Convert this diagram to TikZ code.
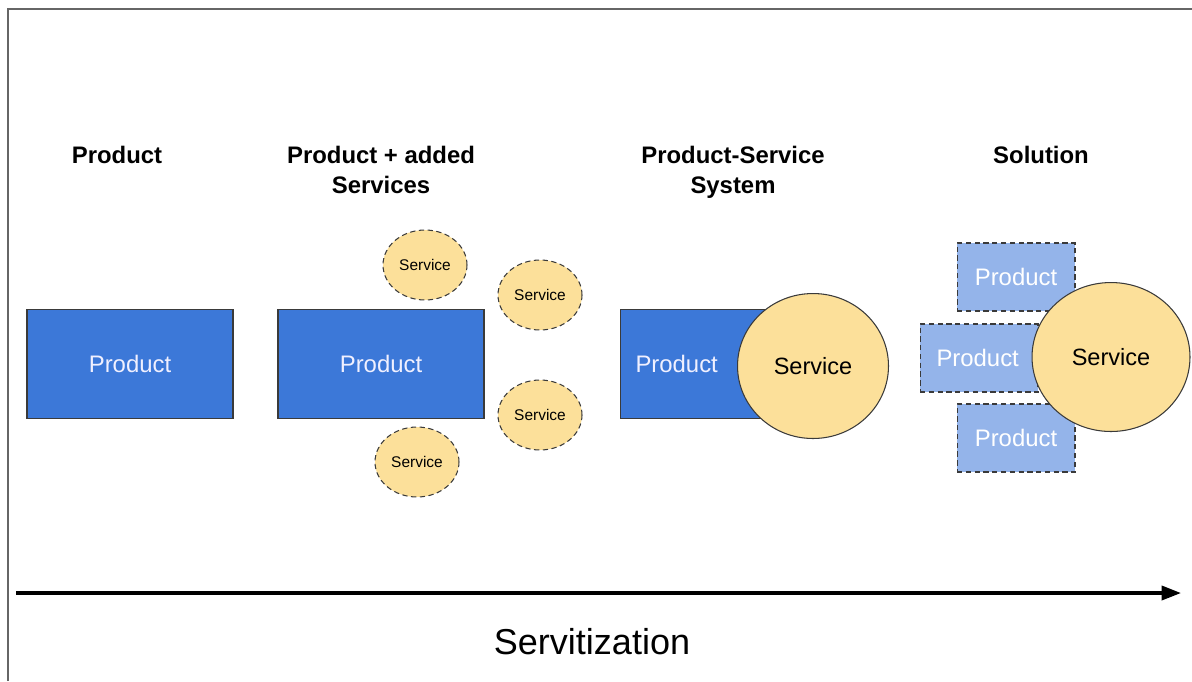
\documentclass[tikz,border=0pt]{standalone}
\usepackage{fontspec}
\setmainfont{Liberation Sans}
\usetikzlibrary{arrows.meta,shapes.geometric}

\definecolor{prodblue}{HTML}{3C78D8}
\definecolor{prodlight}{HTML}{94B4EA}
\definecolor{servyellow}{HTML}{FCE09A}
\definecolor{edgegray}{HTML}{3A3A3A}

\begin{document}
\begin{tikzpicture}[x=0.02cm,y=-0.02cm]
    \useasboundingbox (0,0) rectangle (1192,681);
    % frame
    \draw[line width=0.8pt,gray!80!black] (8,681) -- (8,9) -- (1192,9);
    % headings
    \begin{scope}[every node/.style={font=\fontsize{13.6}{17}\selectfont\bfseries,align=center}]
        \node (hprod) at (117,155) {Product};
        \node (hadd) at (381,170) {Product + added\\Services};
        \node (hpss) at (733,172) {Product-Service\\System};
        \node (hsol) at (1041,155) {Solution};
    \end{scope}
    % product boxes
    \begin{scope}[every node/.style={rectangle,draw=edgegray,line width=0.6pt,fill=prodblue,text=blue!6,minimum width=4.12cm,minimum height=2.18cm,font=\fontsize{13.6}{16}\selectfont}]
        \node (p1) at (130,364) {Product};
        \node (p2) at (381,364) {Product};
        \node[text width=3.5cm,align=left] (p3) at (723,364) {Product};
    \end{scope}
    % added services
    \begin{scope}[every node/.style={ellipse,draw=edgegray,dash pattern=on 3pt off 2pt,line width=0.6pt,fill=servyellow,minimum width=1.68cm,minimum height=1.4cm,inner sep=0pt,font=\fontsize{8.8}{10}\selectfont}]
        \node (s1) at (425,265) {Service};
        \node (s2) at (540,295) {Service};
        \node (s3) at (540,415) {Service};
        \node (s4) at (417,462) {Service};
    \end{scope}
    % solution products
    \begin{scope}[every node/.style={rectangle,draw=edgegray,dash pattern=on 3pt off 2pt,line width=0.6pt,fill=prodlight,text=white,minimum width=2.36cm,minimum height=1.36cm,inner sep=0pt,font=\fontsize{13.6}{16}\selectfont}]
        \node (sp1) at (1016,277) {Product};
        \node[text width=1.7cm,align=left] (sp2) at (979,358) {Product};
        \node (sp3) at (1016,438) {Product};
    \end{scope}
    % big services
    \begin{scope}[every node/.style={ellipse,draw=edgegray,line width=0.6pt,fill=servyellow,inner sep=0pt,font=\fontsize{13.4}{16}\selectfont}]
        \node[minimum width=3.02cm,minimum height=2.9cm] (bs1) at (813,366) {Service};
        \node[minimum width=3.16cm,minimum height=2.98cm] (bs2) at (1111,357) {Service};
    \end{scope}
    % axis
    \coordinate (axstart) at (16,593);
    \coordinate (axend) at (1181,593);
    \draw[line width=1.9pt,-{Triangle[length=11pt,width=8pt]}] (axstart) -- (axend);
    \node[font=\fontsize{20.5}{24}\selectfont] (servit) at (592,642) {Servitization};
\end{tikzpicture}
\end{document}
